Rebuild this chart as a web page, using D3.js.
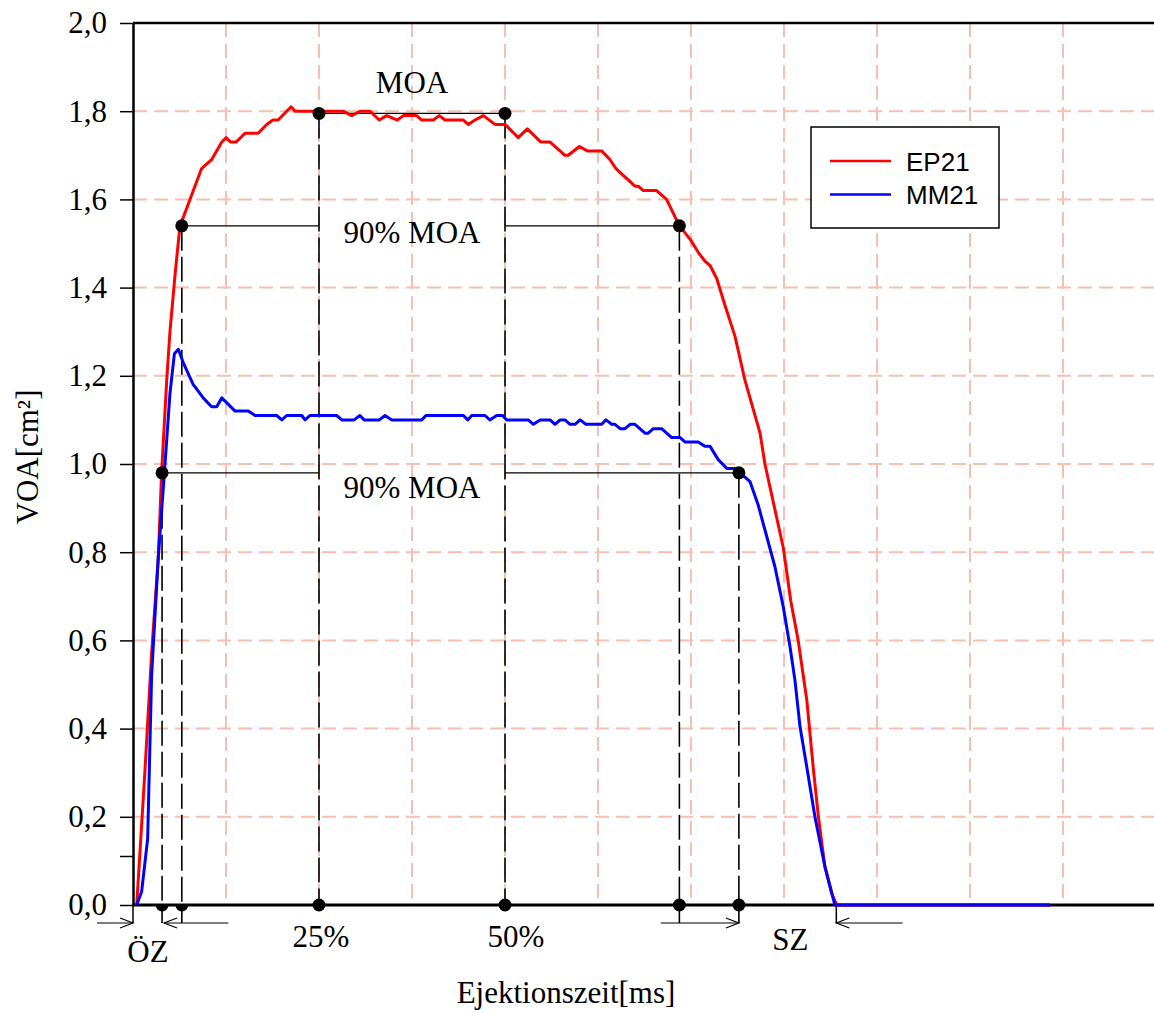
<!DOCTYPE html>
<html>
<head>
<meta charset="utf-8">
<script src="https://cdn.jsdelivr.net/npm/d3@7"></script>
<style>
    body { margin: 0; background: #fff; }
    svg { display: block; }
</style>
</head>
<body>
<div id="chart"></div>
<script>
// EP21 (red): ejection time [ms] / VOA [cm²]
const epTime = [1.6, 5.2, 8.0, 10.9, 12.3, 14.5, 15.9, 18.1, 20.2, 22.4, 24.5, 29.5, 33.8, 38.2, 40.0, 42.0, 44.3, 48.2, 53.8, 57.5,
    60.2, 62.4, 68.0, 69.7, 90.3, 94.1, 97.6, 101.9, 105.9, 109.1, 113.7, 116.3, 122.0, 124.2, 129.2, 131.7, 134.2, 142.1, 144.2, 147.1,
    150.7, 155.7, 160.0, 165.7, 169.6, 175.4, 179.4, 185.8, 187.2, 192.0, 195.4, 201.6, 205.2, 207.7, 215.9, 217.3, 219.5, 225.2, 229.5, 235.0,
    239.6, 243.1, 246.0, 248.2, 251.1, 254.6, 258.9, 263.2, 269.7, 271.8, 279.7, 282.9, 286.1, 289.8, 292.6, 294.8, 297.6, 300.5, 302.7, 394.4];
const epVoa = [0, 0.31, 0.57, 0.79, 0.98, 1.19, 1.30, 1.43, 1.54, 1.57, 1.60, 1.67, 1.69, 1.73, 1.74, 1.73, 1.73, 1.75, 1.75, 1.77,
    1.78, 1.78, 1.81, 1.80, 1.80, 1.79, 1.80, 1.80, 1.78, 1.79, 1.78, 1.79, 1.79, 1.78, 1.78, 1.79, 1.78, 1.78, 1.77, 1.78,
    1.79, 1.77, 1.77, 1.74, 1.76, 1.73, 1.73, 1.70, 1.70, 1.72, 1.71, 1.71, 1.69, 1.67, 1.63, 1.63, 1.62, 1.62, 1.60, 1.54,
    1.51, 1.48, 1.46, 1.45, 1.42, 1.36, 1.29, 1.19, 1.07, 1.00, 0.81, 0.69, 0.60, 0.465, 0.31, 0.20, 0.087, 0.026, 0, 0];

// MM21 (blue)
const mmTime = [1.6, 3.7, 6.3, 8.0, 10.9, 13.5, 15.9, 17.8, 19.5, 21.6, 25.9, 27.4, 30.2, 33.8, 36.0, 38.2, 43.9, 49.6, 52.5, 61.8,
    64.0, 66.1, 72.6, 74.0, 76.1, 87.6, 89.8, 95.1, 97.6, 99.4, 105.9, 108.4, 111.3, 124.2, 126.0, 142.1, 144.0, 145.7, 151.4, 153.5,
    156.4, 159.0, 160.7, 170.0, 172.2, 175.1, 179.4, 181.5, 183.7, 185.8, 188.0, 190.1, 192.3, 194.8, 201.6, 203.4, 205.9, 207.3, 209.5, 211.6,
    213.8, 215.9, 220.2, 221.6, 223.8, 227.4, 231.7, 235.3, 237.4, 243.1, 246.0, 248.2, 251.7, 255.4, 259.7, 261.1, 265.4, 268.9, 272.6, 276.1,
    279.7, 282.6, 284.7, 286.9, 289.8, 293.3, 297.6, 301.9, 394.4];
const mmVoa = [0, 0.03, 0.15, 0.52, 0.79, 0.98, 1.16, 1.25, 1.26, 1.23, 1.18, 1.17, 1.15, 1.13, 1.13, 1.15, 1.12, 1.12, 1.11, 1.11,
    1.10, 1.11, 1.11, 1.10, 1.11, 1.11, 1.10, 1.10, 1.11, 1.10, 1.10, 1.11, 1.10, 1.10, 1.11, 1.11, 1.10, 1.11, 1.11, 1.10,
    1.11, 1.11, 1.10, 1.10, 1.09, 1.10, 1.10, 1.09, 1.10, 1.10, 1.09, 1.09, 1.10, 1.09, 1.09, 1.10, 1.09, 1.09, 1.08, 1.08,
    1.09, 1.09, 1.07, 1.07, 1.08, 1.08, 1.06, 1.06, 1.05, 1.05, 1.04, 1.04, 1.01, 0.99, 0.99, 0.98, 0.96, 0.907, 0.835, 0.767,
    0.676, 0.585, 0.51, 0.404, 0.313, 0.20, 0.087, 0, 0];

const seriesNames = ["EP21", "MM21"];
const seriesColors = ["#ff0000", "#0000ff"];

const yTicks = [0, 0.2, 0.4, 0.6, 0.8, 1.0, 1.2, 1.4, 1.6, 1.8, 2.0];
const yExtraTicks = [0.11];
const xGrid = [40, 80, 120, 160, 200, 240, 280, 320, 360, 400];

// MOA markers (25% / 50% of ejection time)
const moaTimes = [80, 160];
const moaValue = 1.795;
const moaLabels = ["25%", "50%"];
// 90% MOA markers
const epNinetyTimes = [21, 235];
const epNinetyValue = 1.54;
const mmNinetyTimes = [12.5, 260.6];
const mmNinetyValue = 0.98;
const openTime = 0;
const closeTime = 302.5;

const width = 1154, height = 1014;
const gridColor = "#f8bfae";
const serif = "'Liberation Serif', 'Times New Roman', serif";

const fmt = d3.formatLocale({ decimal: ",", thousands: ".", grouping: [3], currency: ["", "€"] }).format(".1f");

const x = d3.scaleLinear().domain([0, 440]).range([133, 1156]);
const y = d3.scaleLinear().domain([0, 2]).range([905, 23]);

const svg = d3.select("#chart").append("svg")
    .attr("width", width)
    .attr("height", height);

// grid
svg.append("g").selectAll("line")
    .data(xGrid)
    .join("line")
    .attr("x1", d => x(d)).attr("x2", d => x(d))
    .attr("y1", y(2)).attr("y2", y(0))
    .attr("stroke", gridColor).attr("stroke-width", 2)
    .attr("stroke-dasharray", "14,7");

svg.append("g").selectAll("line")
    .data(yTicks.filter(d => d > 0 && d < 2))
    .join("line")
    .attr("x1", x(0)).attr("x2", x(440))
    .attr("y1", d => y(d)).attr("y2", d => y(d))
    .attr("stroke", gridColor).attr("stroke-width", 2)
    .attr("stroke-dasharray", "14,7");

// annotation lines
const ann = svg.append("g").attr("stroke", "#000").attr("fill", "none");
const below = 18;

// MOA line + verticals
ann.append("line")
    .attr("x1", x(moaTimes[0])).attr("x2", x(moaTimes[1]))
    .attr("y1", y(moaValue)).attr("y2", y(moaValue))
    .attr("stroke-width", 1.2);
ann.selectAll(".moa-v")
    .data(moaTimes)
    .join("line")
    .attr("x1", d => x(d)).attr("x2", d => x(d))
    .attr("y1", y(moaValue)).attr("y2", y(0))
    .attr("stroke-width", 1.6)
    .attr("stroke-dasharray", "25,6");

function ninety(times, value) {
    ann.append("line")
        .attr("x1", x(times[0])).attr("x2", x(moaTimes[0]))
        .attr("y1", y(value)).attr("y2", y(value))
        .attr("stroke-width", 1.2);
    ann.append("line")
        .attr("x1", x(moaTimes[1])).attr("x2", x(times[1]))
        .attr("y1", y(value)).attr("y2", y(value))
        .attr("stroke-width", 1.2);
    ann.selectAll(null)
        .data(times)
        .join("line")
        .attr("x1", d => x(d)).attr("x2", d => x(d))
        .attr("y1", y(value)).attr("y2", y(0) + below)
        .attr("stroke-width", 1.6)
        .attr("stroke-dasharray", "25,6");
}
ninety(epNinetyTimes, epNinetyValue);
ninety(mmNinetyTimes, mmNinetyValue);

// closing time marker
ann.append("line")
    .attr("x1", x(closeTime)).attr("x2", x(closeTime))
    .attr("y1", y(0)).attr("y2", y(0) + below)
    .attr("stroke-width", 1.5);

// arrows below the axis
function arrow(from, to) {
    const ay = y(0) + below;
    const dir = to > from ? 1 : -1;
    ann.append("line")
        .attr("x1", from).attr("x2", to)
        .attr("y1", ay).attr("y2", ay)
        .attr("stroke-width", 1.2);
    ann.append("path")
        .attr("d", `M${to - dir * 13},${ay - 5}L${to},${ay}L${to - dir * 13},${ay + 5}`)
        .attr("stroke-width", 1.2);
}
arrow(x(openTime) - 36, x(openTime));
arrow(x(41), x(mmNinetyTimes[0]) + 2);
arrow(x(227), x(mmNinetyTimes[1]));
arrow(x(331), x(closeTime));

// axes
const yAxis = d3.axisLeft(y)
    .tickValues(yTicks)
    .tickFormat(fmt)
    .tickSize(13)
    .tickPadding(13)
    .tickSizeOuter(0);
const gy = svg.append("g")
    .attr("transform", `translate(${x(0)},0)`)
    .call(yAxis);
gy.select(".domain").attr("stroke-width", 2.5);
gy.selectAll(".tick line").attr("stroke-width", 1.5);
gy.selectAll(".tick text")
    .attr("font-family", serif)
    .attr("font-size", 31)
    .attr("fill", "#000");
gy.selectAll(".extra")
    .data(yExtraTicks)
    .join("line")
    .attr("x1", -13).attr("x2", 0)
    .attr("y1", d => y(d)).attr("y2", d => y(d))
    .attr("stroke", "#000").attr("stroke-width", 1.5);
gy.append("line")
    .attr("x1", 0).attr("x2", 0)
    .attr("y1", y(0)).attr("y2", y(0) + below)
    .attr("stroke", "#000").attr("stroke-width", 1.5);

svg.append("line")
    .attr("x1", x(0)).attr("x2", x(440))
    .attr("y1", y(0)).attr("y2", y(0))
    .attr("stroke", "#000").attr("stroke-width", 3);
svg.append("line")
    .attr("x1", x(0)).attr("x2", x(440))
    .attr("y1", y(2)).attr("y2", y(2))
    .attr("stroke", "#000").attr("stroke-width", 2.5);

// curves (on top of the x axis line)
const line = d3.line().x(d => x(d[0])).y(d => y(d[1]));
const series = [d3.zip(epTime, epVoa), d3.zip(mmTime, mmVoa)];
svg.append("g").selectAll("path")
    .data(series)
    .join("path")
    .attr("d", line)
    .attr("fill", "none")
    .attr("stroke", (d, i) => seriesColors[i])
    .attr("stroke-width", 3)
    .attr("stroke-linejoin", "round");

// dots
svg.append("clipPath").attr("id", "belowAxis")
    .append("rect")
    .attr("x", 0).attr("y", y(0))
    .attr("width", width).attr("height", 40);

const dots = svg.append("g").attr("fill", "#000");
const topDots = [
    ...moaTimes.map(t => [t, moaValue]),
    ...epNinetyTimes.map(t => [t, epNinetyValue]),
    ...mmNinetyTimes.map(t => [t, mmNinetyValue])
];
dots.selectAll(".top")
    .data(topDots)
    .join("circle")
    .attr("cx", d => x(d[0])).attr("cy", d => y(d[1]))
    .attr("r", 6.5);
dots.selectAll(".bottom")
    .data([...moaTimes, epNinetyTimes[1], mmNinetyTimes[1]])
    .join("circle")
    .attr("cx", d => x(d)).attr("cy", y(0))
    .attr("r", 6.5);
dots.selectAll(".half")
    .data([mmNinetyTimes[0], epNinetyTimes[0]])
    .join("circle")
    .attr("clip-path", "url(#belowAxis)")
    .attr("cx", d => x(d)).attr("cy", y(0))
    .attr("r", 6.5);

// texts
const txt = svg.append("g")
    .attr("font-family", serif)
    .attr("font-size", 31)
    .attr("fill", "#000")
    .attr("text-anchor", "middle");
const midMoa = (x(moaTimes[0]) + x(moaTimes[1])) / 2;
txt.append("text").attr("x", midMoa).attr("y", y(moaValue) - 20).text("MOA");
txt.append("text").attr("x", midMoa).attr("y", y(epNinetyValue) + 17).text("90% MOA");
txt.append("text").attr("x", midMoa).attr("y", y(mmNinetyValue) + 25).text("90% MOA");
txt.append("text").attr("x", x(moaTimes[0]) + 2).attr("y", y(0) + 42).text(moaLabels[0]);
txt.append("text").attr("x", x(moaTimes[1]) + 11).attr("y", y(0) + 42).text(moaLabels[1]);
txt.append("text").attr("x", x(openTime) + 15).attr("y", y(0) + 57).text("ÖZ");
txt.append("text").attr("x", x(closeTime) - 46).attr("y", y(0) + 45).text("SZ");
txt.append("text").attr("x", 566).attr("y", 1003).text("Ejektionszeit[ms]");
txt.append("text")
    .attr("transform", "translate(38,457) rotate(-90)")
    .text("VOA[cm²]");

// legend
const lg = svg.append("g").attr("transform", "translate(811,127)");
lg.append("rect")
    .attr("width", 188).attr("height", 101)
    .attr("fill", "#fff").attr("stroke", "#000").attr("stroke-width", 1.5);
const items = lg.selectAll(".item")
    .data(seriesNames)
    .join("g")
    .attr("transform", (d, i) => `translate(0,${34 + i * 33.5})`);
items.append("line")
    .attr("x1", 19).attr("x2", 80)
    .attr("stroke", (d, i) => seriesColors[i])
    .attr("stroke-width", 2.6);
items.append("text")
    .attr("x", 95).attr("y", 9.5)
    .attr("font-family", "'Liberation Sans', Arial, sans-serif")
    .attr("font-size", 26)
    .text(d => d);
</script>
</body>
</html>
